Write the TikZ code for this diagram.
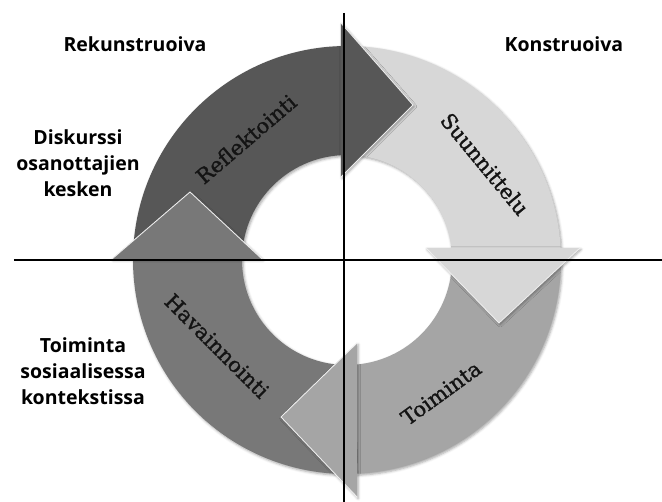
\documentclass[tikz,border=0pt]{standalone}
\usepackage{fontspec}
\setmainfont{DejaVu Serif}
\newfontfamily\labelfont{Open Sans}
\newfontfamily\stepfont{DejaVu Serif}[FakeBold=1.2]
\usetikzlibrary{shadows.blur}

\definecolor{reflcol}{HTML}{575757}
\definecolor{suuncol}{HTML}{D7D7D7}
\definecolor{toimcol}{HTML}{A5A5A5}
\definecolor{havcol}{HTML}{787878}
\definecolor{edgecol}{HTML}{EDEDED}

\begin{document}
\begin{tikzpicture}[x=1pt,y=1pt,
  softshadow/.style={blur shadow={shadow xshift=1.2pt,shadow yshift=-1.5pt,
      shadow blur radius=2.5pt,shadow opacity=35}},
  arrowbody/.style={softshadow},
  arrowhead/.style={softshadow},
  headedge/.style={draw=edgecol,line width=0.9pt,line cap=round},
  steplabel/.style={text=black!92,font=\stepfont\fontsize{21}{25}\selectfont,inner sep=0pt},
  sidelabel/.style={text=black,font=\labelfont\bfseries\fontsize{19.5}{26}\selectfont,
      align=center,inner sep=0pt},
  axisline/.style={draw=black,line width=1.9pt}
]
\useasboundingbox (-344,-242) rectangle (318,260);

% ring centre and radii
\coordinate (c) at (3,0);
\def\Ro{214}
\def\Ri{105}

% ---- arrow bodies (clockwise arcs) ----
\fill[reflcol,arrowbody] (c) ++(177:\Ro) arc[start angle=177,end angle=91.6,radius=\Ro]
  -- ([shift={(93.3:\Ri)}]c) arc[start angle=93.3,end angle=177,radius=\Ri] -- cycle;
\fill[suuncol,arrowbody] (c) ++(88:\Ro) arc[start angle=88,end angle=3.2,radius=\Ro]
  -- ([shift={(6.6:\Ri)}]c) arc[start angle=6.6,end angle=88,radius=\Ri] -- cycle;
\fill[toimcol,arrowbody] (c) ++(1:\Ro) arc[start angle=1,end angle=-87.3,radius=\Ro]
  -- ([shift={(-84.5:\Ri)}]c) arc[start angle=-84.5,end angle=1,radius=\Ri] -- cycle;
\fill[havcol,arrowbody] (c) ++(272:\Ro) arc[start angle=272,end angle=179.7,radius=\Ro]
  -- ([shift={(179.5:\Ri)}]c) arc[start angle=179.5,end angle=272,radius=\Ri] -- cycle;

% ---- arrow heads ----
\coordinate (refl-a) at (-3,237);  \coordinate (refl-t) at (69,155);  \coordinate (refl-b) at (-3,83);
\coordinate (suun-a) at (236,12);  \coordinate (suun-t) at (155,-63); \coordinate (suun-b) at (82,12);
\coordinate (toim-a) at (13,-237); \coordinate (toim-t) at (-63,-157);\coordinate (toim-b) at (13,-83);
\coordinate (hav-a) at (-232,1);   \coordinate (hav-t) at (-154,68);  \coordinate (hav-b) at (-82,1);

\fill[reflcol,arrowhead] (refl-a) -- (refl-t) -- (refl-b) -- cycle;
\draw[headedge] (refl-a) -- (refl-t) -- (refl-b);
\fill[suuncol,arrowhead] (suun-a) -- (suun-t) -- (suun-b) -- cycle;
\draw[headedge] (suun-a) -- (suun-t) -- (suun-b);
\fill[toimcol,arrowhead] (toim-a) -- (toim-t) -- (toim-b) -- cycle;
\draw[headedge] (toim-a) -- (toim-t) -- (toim-b);
\fill[havcol,arrowhead] (hav-a) -- (hav-t) -- (hav-b) -- cycle;
\draw[headedge] (hav-a) -- (hav-t) -- (hav-b);

% ---- step labels ----
\node[steplabel,rotate=40.5] (refl) at (-98,121) {Reflektointi};
\node[steplabel,rotate=-50.5] (suun) at (141,96) {Suunnittelu};
\node[steplabel,rotate=36] (toim) at (97,-133) {Toiminta};
\node[steplabel,rotate=-45] (hav) at (-127,-86) {Havainnointi};

% ---- axes ----
\coordinate (ax-top) at (0,247);
\coordinate (ax-bot) at (0,-242);
\coordinate (ax-left) at (-330,0);
\coordinate (ax-right) at (318,0);
\draw[axisline] (ax-top) -- (ax-bot);
\draw[axisline] (ax-left) -- (ax-right);

% ---- quadrant labels ----
\node[sidelabel] (rek) at (-209,216) {Rekunstruoiva};
\node[sidelabel] (kon) at (220,216) {Konstruoiva};
\node[sidelabel] (disk) at (-266,97) {Diskurssi\\osanottajien\\kesken};
\node[sidelabel] (sos) at (-261,-111) {Toiminta\\sosiaalisessa\\kontekstissa};
\end{tikzpicture}
\end{document}
